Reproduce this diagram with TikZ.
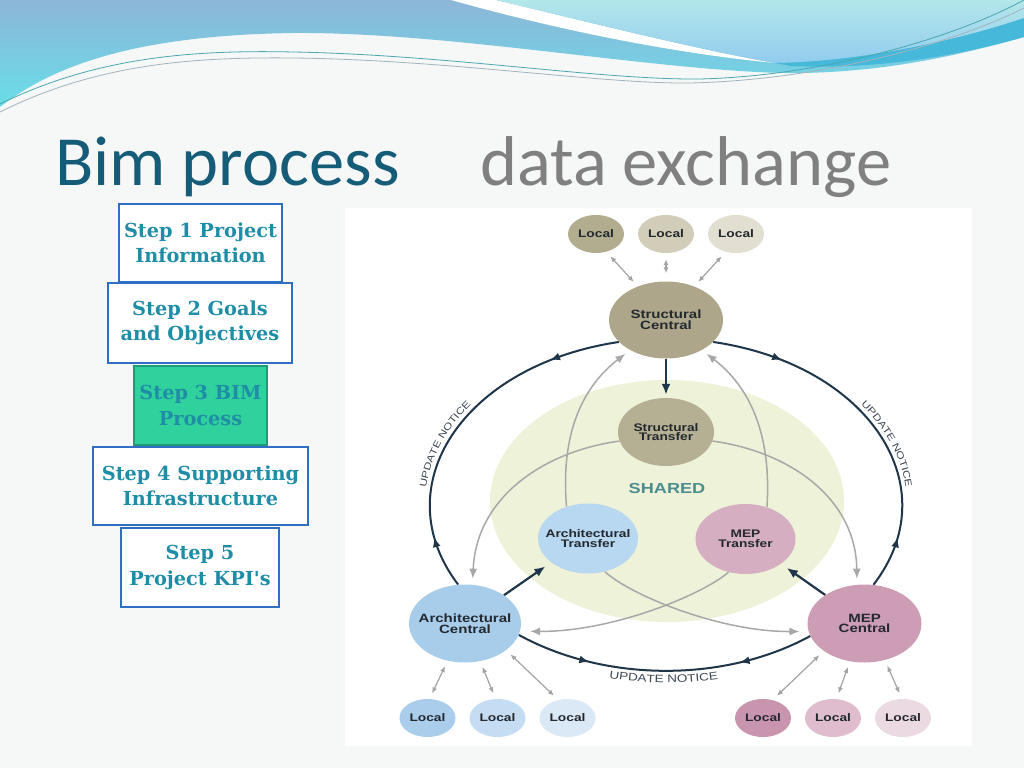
\documentclass[tikz,border=0pt]{standalone}
\usepackage{fontspec}
\setmainfont{Liberation Serif}
\newfontfamily\titlefont{Carlito}
\newfontfamily\stepfont{DejaVu Serif}
\newfontfamily\dfont[FakeStretch=1.25]{Liberation Sans}
\usetikzlibrary{shapes.geometric,arrows.meta,decorations.markings,decorations.text}
\definecolor{bgc}{HTML}{F6F7F7}
\definecolor{titleteal}{HTML}{145C78}
\definecolor{titlegray}{HTML}{808080}
\definecolor{stepblue}{HTML}{2E6FC4}
\definecolor{steptext}{HTML}{1F8DA6}
\definecolor{stepgreen}{HTML}{2FD29C}
\definecolor{stepgreenb}{HTML}{1E9C77}
\definecolor{sharedc}{HTML}{EEF2D8}
\definecolor{ringc}{HTML}{1F3549}
\definecolor{grayc}{HTML}{A8A8A8}
\definecolor{lgray}{HTML}{A3A3A3}
\definecolor{txtc}{HTML}{24292F}
\definecolor{sharedtxt}{HTML}{4A8E8F}
\definecolor{updc}{HTML}{3D4752}
\definecolor{scC}{HTML}{ADA68A}
\definecolor{stC}{HTML}{B5AF93}
\definecolor{tl1}{HTML}{B3AD8F}
\definecolor{tl2}{HTML}{D2CDB9}
\definecolor{tl3}{HTML}{E2DFD2}
\definecolor{acC}{HTML}{A7CDEB}
\definecolor{atC}{HTML}{B8D7F0}
\definecolor{bl1}{HTML}{A9CDEB}
\definecolor{bl2}{HTML}{C4DDF2}
\definecolor{bl3}{HTML}{DBE9F7}
\definecolor{mcC}{HTML}{CC9DB5}
\definecolor{mtC}{HTML}{D6AEC2}
\definecolor{br1}{HTML}{C994AE}
\definecolor{br2}{HTML}{DFBDCF}
\definecolor{br3}{HTML}{ECDAE3}
\definecolor{waveA}{HTML}{8DB6D8}
\definecolor{waveB}{HTML}{68DEE9}
\definecolor{panelA}{HTML}{B3E7EA}
\definecolor{panelB}{HTML}{92CCEE}
\definecolor{stripe}{HTML}{46B8DA}
\definecolor{lineA}{HTML}{4AA7B0}
\definecolor{lineB}{HTML}{A3B3BB}
\pgfdeclarelayer{back}
\pgfdeclarelayer{mid}
\pgfsetlayers{back,mid,main}
\newcommand\updfont{\dfont\fontsize{9.5}{11}\selectfont}
\newcommand\updfontb{\dfont\fontsize{10.8}{12}\selectfont}
\begin{document}
\begin{tikzpicture}[x=1pt,y=-1pt,
  bub/.style={ellipse, inner sep=0pt, draw=none},
  loc/.style={bub, minimum width=56pt, minimum height=38pt, font=\dfont\bfseries\fontsize{11}{11}\selectfont, text=txtc},
  ctext/.style={align=center, inner sep=0pt, font=\dfont\bfseries\fontsize{12}{10.8}\selectfont, text=txtc},
  ttext/.style={align=center, inner sep=0pt, font=\dfont\bfseries\fontsize{11}{9.6}\selectfont, text=txtc},
  stepbox/.style={draw=stepblue, line width=2.5pt, fill=white, align=center, inner sep=0pt, font=\stepfont\bfseries\fontsize{19.3}{25.5}\selectfont, text=steptext},
  ring/.style={draw=ringc, line width=2pt},
  gcurve/.style={draw=grayc, line width=1.5pt, -{Latex[length=10pt,width=8pt]}},
  darr/.style={draw=ringc, line width=2.2pt, -{Latex[length=11pt,width=9pt]}},
  larr/.style={draw=lgray, line width=1.2pt, {Latex[length=6pt,width=5pt]}-{Latex[length=6pt,width=5pt]}, shorten <=6pt, shorten >=6pt},
  ttl/.style={anchor=base west, inner sep=0pt, font=\titlefont\fontsize{70.5}{80}\selectfont}
]
\useasboundingbox (0,0) rectangle (1024,768);

\begin{pgfonlayer}{back}
\fill[bgc] (0,0) rectangle (1024,768);
\shade[top color=waveA, bottom color=waveB] (0,0) -- (1024,0) -- (1024,37) .. controls (960,55) and (880,74) .. (784,73) .. controls (650,70) and (450,32) .. (294,33) .. controls (150,35) and (60,60) .. (0,107) -- cycle;
\fill[white] (451,0) .. controls (540,25) and (660,52) .. (775,63) .. controls (700,50) and (600,25) .. (496,0) -- cycle;
\shade[top color=panelA, bottom color=panelB] (496,0) .. controls (600,25) and (700,50) .. (775,63) .. controls (860,62) and (960,40) .. (1024,18) -- (1024,0) -- cycle;
\fill[stripe] (775,63) .. controls (860,62) and (960,40) .. (1024,18) -- (1024,37) .. controls (960,55) and (880,70) .. (790,66) -- cycle;
\draw[lineA, line width=0.8pt] (0,104) .. controls (100,55) and (200,50) .. (294,52) .. controls (450,55) and (600,80) .. (700,79) .. controls (820,76) and (950,40) .. (1024,0);
\draw[lineB, line width=0.8pt] (0,112) .. controls (100,62) and (200,57) .. (294,58) .. controls (450,60) and (600,84) .. (690,83) .. controls (820,80) and (950,45) .. (1024,8);
\fill[white] (345,208) rectangle (972,746);
\node[bub, fill=sharedc, minimum width=354pt, minimum height=242pt] (SH) at (667,501) {};
\end{pgfonlayer}

% title
\node[ttl, text=titleteal] (t1) at (55,185) {Bim process};
\node[ttl, text=titlegray] (t2) at (480,185) {data exchange};

% steps
\node[stepbox, minimum width=163pt, minimum height=78pt] (s1) at (200.5,243) {Step 1 Project\\Information};
\node[stepbox, minimum width=184pt, minimum height=80pt] (s2) at (200,323) {Step 2 Goals\\and Objectives};
\node[stepbox, fill=stepgreen, draw=stepgreenb, minimum width=133pt, minimum height=79pt] (s3) at (200.5,405.5) {Step 3 BIM\\Process};
\node[stepbox, minimum width=215pt, minimum height=78pt] (s4) at (200.5,486) {Step 4 Supporting\\Infrastructure};
\node[stepbox, minimum width=158pt, minimum height=79pt] (s5) at (200,567.5) {Step 5\\Project KPI's};

% diagram nodes
\node[font=\dfont\bfseries\fontsize{14.5}{15}\selectfont, text=sharedtxt, inner sep=0pt] (shl) at (667,489) {SHARED};
\node[bub, fill=scC, minimum width=114pt, minimum height=77pt] (SC) at (666,320) {};
\node[bub, fill=stC, minimum width=96pt, minimum height=68pt] (ST) at (666,432) {};
\node[bub, fill=atC, minimum width=100pt, minimum height=70pt] (AT) at (588,538.5) {};
\node[bub, fill=mtC, minimum width=100pt, minimum height=70pt] (MT) at (745.5,539) {};
\node[bub, fill=acC, minimum width=112pt, minimum height=78pt] (AC) at (465,623.5) {};
\node[bub, fill=mcC, minimum width=114pt, minimum height=78pt] (MC) at (864.5,623.5) {};
\node[ctext] (SCt) at (SC) {Structural\\Central};
\node[ttext] (STt) at (ST) {Structural\\Transfer};
\node[ttext] (ATt) at (AT) {Architectural\\Transfer};
\node[ttext] (MTt) at (MT) {MEP\\Transfer};
\node[ctext] (ACt) at (AC) {Architectural\\Central};
\node[ctext] (MCt) at (MC) {MEP\\Central};
\node[loc, fill=tl1] (TL1) at (596,234) {Local};
\node[loc, fill=tl2] (TL2) at (666,234) {Local};
\node[loc, fill=tl3] (TL3) at (736,234) {Local};
\node[loc, fill=bl1] (BL1) at (427.5,718) {Local};
\node[loc, fill=bl2] (BL2) at (497.5,718) {Local};
\node[loc, fill=bl3] (BL3) at (567.5,718) {Local};
\node[loc, fill=br1] (BR1) at (763,718) {Local};
\node[loc, fill=br2] (BR2) at (833,718) {Local};
\node[loc, fill=br3] (BR3) at (903,718) {Local};

\begin{pgfonlayer}{mid}
% update-notice ring
\draw[ring, postaction={decorate}, decoration={markings,
   mark=at position 0.15 with {\arrow{Latex[length=10pt,width=8pt]}},
   mark=at position 0.8 with {\arrowreversed{Latex[length=10pt,width=8pt]}}}]
  (AC.100) .. controls (383.3,486.2) and (463.3,365.1) .. (SC.205);
\draw[ring, postaction={decorate}, decoration={markings,
   mark=at position 0.15 with {\arrow{Latex[length=10pt,width=8pt]}},
   mark=at position 0.8 with {\arrowreversed{Latex[length=10pt,width=8pt]}}}]
  (MC.77) .. controls (949.2,486.5) and (868.7,364.6) .. (SC.-25);
\draw[ring, postaction={decorate}, decoration={markings,
   mark=at position 0.25 with {\arrow{Latex[length=10pt,width=8pt]}},
   mark=at position 0.75 with {\arrowreversed{Latex[length=10pt,width=8pt]}}}]
  (AC.-12) .. controls (605.2,682.3) and (724.2,682.9) .. (MC.193);
% labels along the ring
\path[decorate, decoration={text along path, text={|\updfont|UPDATE NOTICE}, text align=center, text color=updc}]
  plot[domain=0:1, samples=50] ({666+241*cos(207-90*\x)}, {505-171*sin(207-90*\x)});
\path[decorate, decoration={text along path, text={|\updfont|UPDATE NOTICE}, text align=center, text color=updc}]
  plot[domain=0:1, samples=50] ({666+241*cos(63-90*\x)}, {505-171*sin(63-90*\x)});
\path[decorate, decoration={text along path, text={|\updfontb|UPDATE NOTICE}, text align=center, text color=updc}]
  plot[domain=0:1, samples=50] ({666+250*cos(224.4+90*\x)}, {505-178*sin(224.4+90*\x)});
% shared transfers (grey)
\draw[gcurve, shorten >=6pt] (AT.124) .. controls (560,430) and (585,385) .. (SC.220);
\draw[gcurve, shorten >=6pt] (MT.56) .. controls (772,430) and (747,385) .. (SC.-40);
\draw[gcurve, shorten >=6pt] (ST.191) .. controls (540,452) and (476,500) .. (AC.79);
\draw[gcurve, shorten >=6pt] (ST.-11) .. controls (792,452) and (856,500) .. (MC.101);
\draw[gcurve, shorten >=9pt] (AT.-63) .. controls (630,595) and (720,632) .. (MC.188);
\draw[gcurve, shorten >=10pt] (MT.-117) .. controls (702,595) and (612,632) .. (AC.-8);
% central to transfer
\draw[darr, shorten >=3pt] (SC.south) -- (ST.north);
\draw[darr, shorten >=7pt] (AC.36) -- (AT.213);
\draw[darr, shorten >=7pt] (MC.144) -- (MT.-35);
% locals
\draw[larr] (TL1.-60) -- (SC.130);
\draw[larr, shorten >=8pt] (TL2.south) -- (SC.north);
\draw[larr] (TL3.240) -- (SC.50);
\draw[larr] (AC.245) -- (BL1.84);
\draw[larr] (AC.-68) -- (BL2.96);
\draw[larr] (AC.-33) -- (BL3.117);
\draw[larr] (MC.214) -- (BR1.62);
\draw[larr] (MC.249) -- (BR2.80);
\draw[larr] (MC.-61) -- (BR3.93);
\end{pgfonlayer}
\end{tikzpicture}
\end{document}
